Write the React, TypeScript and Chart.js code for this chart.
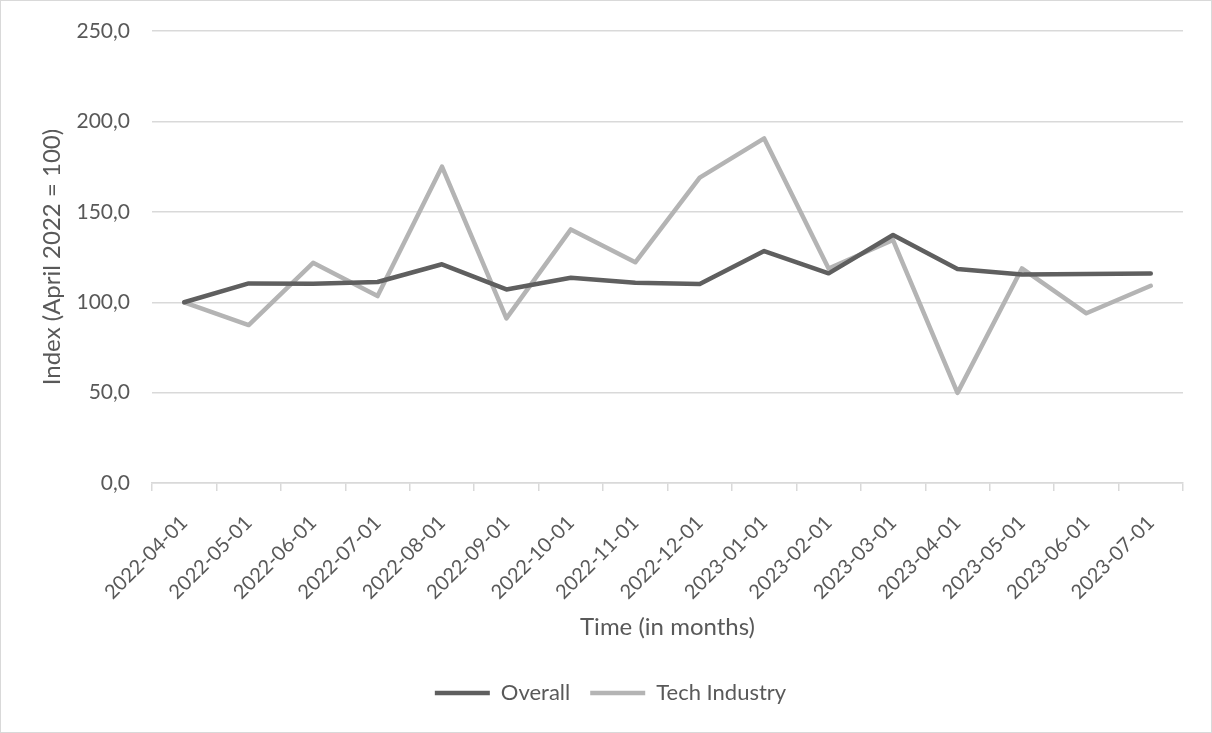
import React, { useEffect, useRef } from "react";
import { Chart, registerables } from "chart.js";

Chart.register(...registerables);

const months = [
  "2022-04-01", "2022-05-01", "2022-06-01", "2022-07-01", "2022-08-01", "2022-09-01",
  "2022-10-01", "2022-11-01", "2022-12-01", "2023-01-01", "2023-02-01", "2023-03-01",
  "2023-04-01", "2023-05-01", "2023-06-01", "2023-07-01",
];
const overall = [100.0, 110.4, 110.3, 111.2, 121.0, 107.1, 113.6, 110.8, 110.1, 128.3, 116.0, 137.2, 118.4, 115.3, 115.6, 115.9];
const techIndustry = [100.0, 87.4, 121.8, 103.4, 175.0, 91.1, 140.3, 122.1, 168.9, 190.6, 118.7, 134.4, 49.9, 118.7, 93.9, 109.1];
const yTicks = [0, 50, 100, 150, 200, 250];

const FONT = "Lato, 'Open Sans', sans-serif";
const TEXT = "#595959";
const GRID = "#d9d9d9";

export default function App() {
  const ref = useRef<HTMLCanvasElement | null>(null);
  useEffect(() => {
    if (!ref.current) return;
    const chart = new Chart(ref.current, {
      type: "line",
      data: {
        labels: months,
        datasets: [
          {
            label: "Overall",
            data: overall,
            borderColor: "#5f5f5f",
            backgroundColor: "#5f5f5f",
            borderWidth: 4.5,
            pointRadius: 0,
            borderCapStyle: "round",
            borderJoinStyle: "round",
            tension: 0,
          },
          {
            label: "Tech Industry",
            data: techIndustry,
            borderColor: "#b4b4b4",
            backgroundColor: "#b4b4b4",
            borderWidth: 4.5,
            pointRadius: 0,
            borderCapStyle: "round",
            borderJoinStyle: "round",
            tension: 0,
          },
        ],
      },
      options: {
        animation: false,
        responsive: false,
        maintainAspectRatio: false,
        layout: { padding: { top: 30, left: 37, right: 28, bottom: 18 } },
        plugins: {
          tooltip: { enabled: false },
          legend: {
            position: "bottom",
            labels: {
              usePointStyle: true,
              pointStyle: "line",
              pointStyleWidth: 55,
              color: TEXT,
              font: { family: FONT, size: 22 },
              padding: 20,
            },
          },
        },
        scales: {
          x: {
            type: "category",
            offset: true,
            afterFit: (scale: any) => {
              scale.paddingLeft = 0;
              scale.paddingRight = 0;
            },
            grid: {
              offset: true,
              drawOnChartArea: false,
              drawTicks: true,
              tickLength: 8,
              color: GRID,
              lineWidth: 1.5,
            },
            border: { display: true, color: GRID, width: 1.5 },
            ticks: {
              color: TEXT,
              font: { family: FONT, size: 20 },
              maxRotation: 45,
              minRotation: 45,
              autoSkip: false,
              padding: 20,
            },
            title: {
              display: true,
              text: "Time (in months)",
              color: TEXT,
              font: { family: FONT, size: 24 },
              padding: { top: -11, bottom: 20 },
            },
          },
          y: {
            min: 0,
            max: 250,
            afterFit: (scale: any) => {
              scale.width = 114;
              scale.paddingTop = 0;
              scale.paddingBottom = 0;
            },
            afterBuildTicks: (axis: any) => {
              axis.ticks = yTicks.map((v) => ({ value: v }));
            },
            grid: { color: GRID, lineWidth: 1.5, drawTicks: false },
            border: { display: false },
            ticks: {
              color: TEXT,
              font: { family: FONT, size: 21 },
              padding: 22,
              callback: (v: any) => Number(v).toFixed(1).replace(".", ","),
            },
            title: {
              display: true,
              text: "Index (April 2022 = 100)",
              color: TEXT,
              font: { family: FONT, size: 24 },
              padding: { top: 0, bottom: 8 },
            },
          },
        },
      },
    });
    return () => chart.destroy();
  }, []);
  return (
    <div
      style={{
        position: "absolute",
        left: 0,
        top: 0,
        width: 1212,
        height: 733,
        boxSizing: "border-box",
        border: "1px solid #d9d9d9",
        background: "#fff",
      }}
    >
      <canvas ref={ref} width={1210} height={731} style={{ display: "block" }} />
    </div>
  );
}
